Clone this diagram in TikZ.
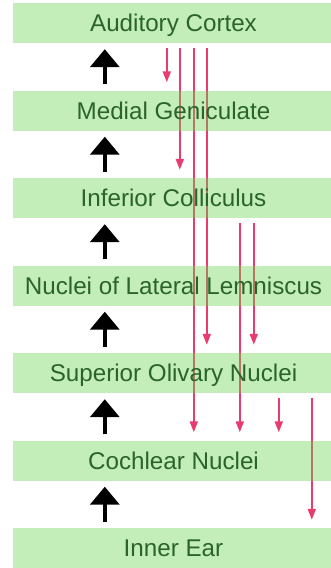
\documentclass[tikz,border=0pt]{standalone}
\usepackage{fontspec}
\setmainfont{Liberation Sans}
\usetikzlibrary{arrows.meta}
\pgfdeclarelayer{background}
\pgfsetlayers{background,main}
\definecolor{bandgreen}{RGB}{105,212,80}
\definecolor{labelgreen}{RGB}{42,100,42}
\definecolor{pathred}{RGB}{232,60,110}
\tikzset{
  band/.style={fill=bandgreen, fill opacity=0.4, text opacity=1, text=labelgreen,
    minimum width=321pt, minimum height=40pt, inner sep=0pt,
    text height=17pt, text depth=0pt,
    font=\fontsize{24.2}{28}\selectfont},
  ascend/.style={line width=3.5pt, -{Triangle[width=29pt,length=18pt]}},
  descend/.style={pathred, line width=1.8pt, -{Triangle[width=8pt,length=11pt]}}
}
\begin{document}
\begin{tikzpicture}[x=1pt,y=1pt]
\useasboundingbox (0,0) rectangle (331,-568);
% stations of the auditory pathway, top to bottom
\node[band] (ac) at (173.5,-23)    {Auditory Cortex};
\node[band] (mg) at (173.5,-110.5) {Medial Geniculate};
\node[band] (ic) at (173.5,-198)   {Inferior Colliculus};
\node[band] (ll) at (173.5,-285.5) {Nuclei of Lateral Lemniscus};
\node[band] (so) at (173.5,-373)   {Superior Olivary Nuclei};
\node[band] (cn) at (173.5,-460.5) {Cochlear Nuclei};
\node[band] (ie) at (173.5,-548)   {Inner Ear};
% ascending path
\foreach \lo/\hi in {mg/ac, ic/mg, ll/ic, so/ll, cn/so, ie/cn}
  \draw[ascend] ([xshift=92pt,yshift=6pt]\lo.north west) -- ([xshift=92pt,yshift=-6pt]\hi.south west);
% descending paths, beneath the bands
\begin{pgfonlayer}{background}
\foreach \from/\to/\x in {ac/mg/154, ac/ic/167, ac/cn/181, ac/so/194,
                          ic/cn/227, ic/so/241, so/cn/266, so/ie/299}
  \draw[descend] ([xshift=\x pt,yshift=-5pt]\from.south west) -- ([xshift=\x pt,yshift=8pt]\to.north west);
\end{pgfonlayer}
\end{tikzpicture}
\end{document}
